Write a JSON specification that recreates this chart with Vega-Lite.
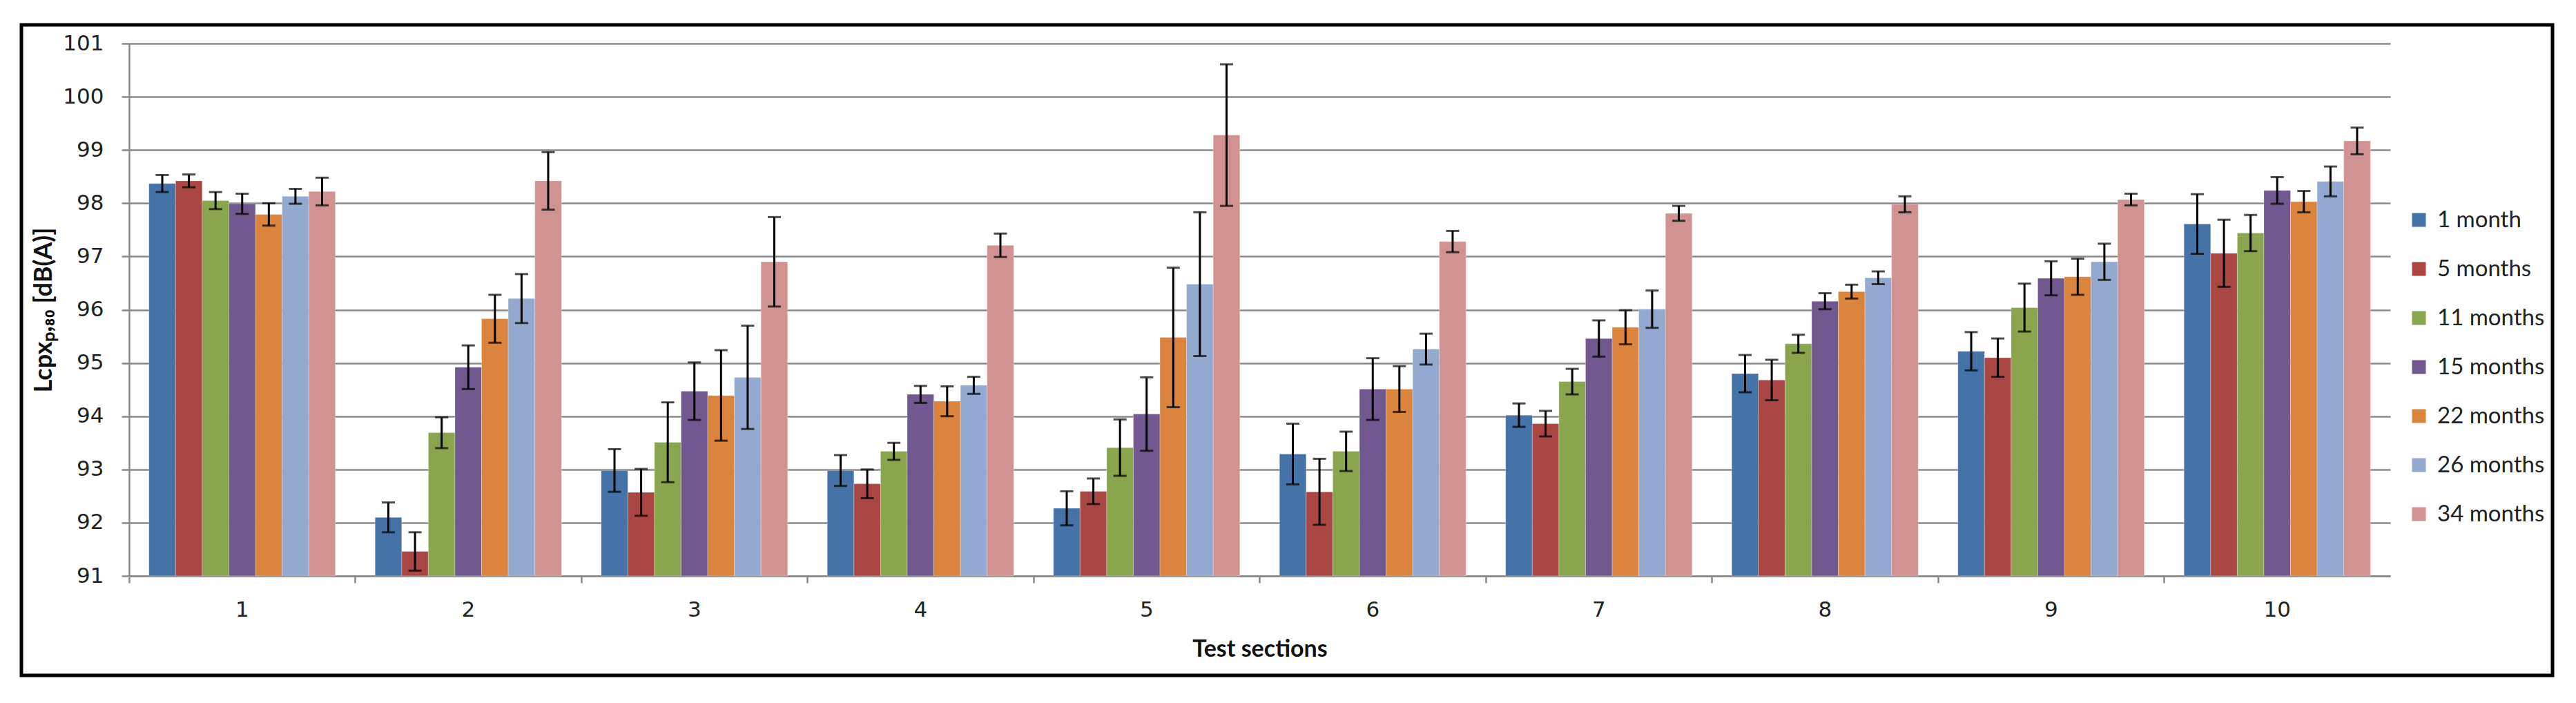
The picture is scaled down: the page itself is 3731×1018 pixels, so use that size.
{
  "$schema": "https://vega.github.io/schema/vega-lite/v6.json",
  "width": 3666,
  "height": 942,
  "autosize": {"type": "none"},
  "padding": {"left": 31, "top": 36, "right": 34, "bottom": 40},
  "background": "white",
  "config": {
    "view": {"stroke": "black", "strokeWidth": 5},
    "font": "Lato",
    "legend": {
      "orient": "none",
      "legendX": 3456,
      "legendY": 266,
      "title": null,
      "symbolType": "square",
      "symbolSize": 400,
      "symbolStrokeWidth": 0,
      "labelFont": "Lato",
      "labelFontSize": 33,
      "labelColor": "#222222",
      "labelOffset": 10,
      "rowPadding": 37,
      "padding": 0
    }
  },
  "data": {
    "values": [
      {"section": 1, "age": "1 month", "value": 98.37, "lo": 98.21, "hi": 98.53},
      {"section": 1, "age": "5 months", "value": 98.42, "lo": 98.30, "hi": 98.54},
      {"section": 1, "age": "11 months", "value": 98.05, "lo": 97.89, "hi": 98.21},
      {"section": 1, "age": "15 months", "value": 97.99, "lo": 97.80, "hi": 98.18},
      {"section": 1, "age": "22 months", "value": 97.79, "lo": 97.58, "hi": 98.00},
      {"section": 1, "age": "26 months", "value": 98.13, "lo": 97.99, "hi": 98.27},
      {"section": 1, "age": "34 months", "value": 98.22, "lo": 97.96, "hi": 98.48},
      {"section": 2, "age": "1 month", "value": 92.10, "lo": 91.82, "hi": 92.38},
      {"section": 2, "age": "5 months", "value": 91.46, "lo": 91.10, "hi": 91.82},
      {"section": 2, "age": "11 months", "value": 93.69, "lo": 93.40, "hi": 93.98},
      {"section": 2, "age": "15 months", "value": 94.92, "lo": 94.51, "hi": 95.33},
      {"section": 2, "age": "22 months", "value": 95.83, "lo": 95.38, "hi": 96.28},
      {"section": 2, "age": "26 months", "value": 96.21, "lo": 95.75, "hi": 96.67},
      {"section": 2, "age": "34 months", "value": 98.42, "lo": 97.88, "hi": 98.96},
      {"section": 3, "age": "1 month", "value": 92.98, "lo": 92.58, "hi": 93.38},
      {"section": 3, "age": "5 months", "value": 92.57, "lo": 92.13, "hi": 93.01},
      {"section": 3, "age": "11 months", "value": 93.51, "lo": 92.76, "hi": 94.26},
      {"section": 3, "age": "15 months", "value": 94.47, "lo": 93.93, "hi": 95.01},
      {"section": 3, "age": "22 months", "value": 94.39, "lo": 93.54, "hi": 95.24},
      {"section": 3, "age": "26 months", "value": 94.73, "lo": 93.76, "hi": 95.70},
      {"section": 3, "age": "34 months", "value": 96.90, "lo": 96.06, "hi": 97.74},
      {"section": 4, "age": "1 month", "value": 92.98, "lo": 92.69, "hi": 93.27},
      {"section": 4, "age": "5 months", "value": 92.73, "lo": 92.46, "hi": 93.00},
      {"section": 4, "age": "11 months", "value": 93.34, "lo": 93.18, "hi": 93.50},
      {"section": 4, "age": "15 months", "value": 94.41, "lo": 94.25, "hi": 94.57},
      {"section": 4, "age": "22 months", "value": 94.28, "lo": 94.00, "hi": 94.56},
      {"section": 4, "age": "26 months", "value": 94.58, "lo": 94.42, "hi": 94.74},
      {"section": 4, "age": "34 months", "value": 97.21, "lo": 96.99, "hi": 97.43},
      {"section": 5, "age": "1 month", "value": 92.27, "lo": 91.95, "hi": 92.59},
      {"section": 5, "age": "5 months", "value": 92.59, "lo": 92.35, "hi": 92.83},
      {"section": 5, "age": "11 months", "value": 93.41, "lo": 92.88, "hi": 93.94},
      {"section": 5, "age": "15 months", "value": 94.04, "lo": 93.35, "hi": 94.73},
      {"section": 5, "age": "22 months", "value": 95.48, "lo": 94.17, "hi": 96.79},
      {"section": 5, "age": "26 months", "value": 96.48, "lo": 95.13, "hi": 97.83},
      {"section": 5, "age": "34 months", "value": 99.28, "lo": 97.95, "hi": 100.61},
      {"section": 6, "age": "1 month", "value": 93.29, "lo": 92.72, "hi": 93.86},
      {"section": 6, "age": "5 months", "value": 92.58, "lo": 91.96, "hi": 93.20},
      {"section": 6, "age": "11 months", "value": 93.34, "lo": 92.97, "hi": 93.71},
      {"section": 6, "age": "15 months", "value": 94.51, "lo": 93.93, "hi": 95.09},
      {"section": 6, "age": "22 months", "value": 94.51, "lo": 94.08, "hi": 94.94},
      {"section": 6, "age": "26 months", "value": 95.26, "lo": 94.97, "hi": 95.55},
      {"section": 6, "age": "34 months", "value": 97.28, "lo": 97.08, "hi": 97.48},
      {"section": 7, "age": "1 month", "value": 94.02, "lo": 93.80, "hi": 94.24},
      {"section": 7, "age": "5 months", "value": 93.86, "lo": 93.62, "hi": 94.10},
      {"section": 7, "age": "11 months", "value": 94.65, "lo": 94.41, "hi": 94.89},
      {"section": 7, "age": "15 months", "value": 95.46, "lo": 95.12, "hi": 95.80},
      {"section": 7, "age": "22 months", "value": 95.67, "lo": 95.35, "hi": 95.99},
      {"section": 7, "age": "26 months", "value": 96.01, "lo": 95.66, "hi": 96.36},
      {"section": 7, "age": "34 months", "value": 97.81, "lo": 97.67, "hi": 97.95},
      {"section": 8, "age": "1 month", "value": 94.80, "lo": 94.45, "hi": 95.15},
      {"section": 8, "age": "5 months", "value": 94.68, "lo": 94.30, "hi": 95.06},
      {"section": 8, "age": "11 months", "value": 95.36, "lo": 95.19, "hi": 95.53},
      {"section": 8, "age": "15 months", "value": 96.16, "lo": 96.01, "hi": 96.31},
      {"section": 8, "age": "22 months", "value": 96.34, "lo": 96.21, "hi": 96.47},
      {"section": 8, "age": "26 months", "value": 96.60, "lo": 96.48, "hi": 96.72},
      {"section": 8, "age": "34 months", "value": 97.98, "lo": 97.83, "hi": 98.13},
      {"section": 9, "age": "1 month", "value": 95.22, "lo": 94.86, "hi": 95.58},
      {"section": 9, "age": "5 months", "value": 95.10, "lo": 94.74, "hi": 95.46},
      {"section": 9, "age": "11 months", "value": 96.04, "lo": 95.59, "hi": 96.49},
      {"section": 9, "age": "15 months", "value": 96.59, "lo": 96.27, "hi": 96.91},
      {"section": 9, "age": "22 months", "value": 96.62, "lo": 96.28, "hi": 96.96},
      {"section": 9, "age": "26 months", "value": 96.90, "lo": 96.56, "hi": 97.24},
      {"section": 9, "age": "34 months", "value": 98.07, "lo": 97.96, "hi": 98.18},
      {"section": 10, "age": "1 month", "value": 97.61, "lo": 97.05, "hi": 98.17},
      {"section": 10, "age": "5 months", "value": 97.06, "lo": 96.43, "hi": 97.69},
      {"section": 10, "age": "11 months", "value": 97.44, "lo": 97.10, "hi": 97.78},
      {"section": 10, "age": "15 months", "value": 98.24, "lo": 97.99, "hi": 98.49},
      {"section": 10, "age": "22 months", "value": 98.03, "lo": 97.83, "hi": 98.23},
      {"section": 10, "age": "26 months", "value": 98.41, "lo": 98.13, "hi": 98.69},
      {"section": 10, "age": "34 months", "value": 99.17, "lo": 98.92, "hi": 99.42}
    ]
  },
  "resolve": {"axis": {"x": "independent"}},
  "layer": [
    {
      "mark": {"type": "bar", "stroke": "white", "strokeWidth": 0.6, "strokeOpacity": 0.5},
      "encoding": {
        "x": {
          "field": "section", "type": "ordinal",
          "scale": {"range": [156, 3431], "paddingInner": 0, "paddingOuter": 0},
          "axis": {
            "orient": "bottom", "offset": -144, "title": "Test sections",
            "titleFont": "Lato", "titleFontSize": 34, "titleFontWeight": "bold", "titleColor": "#111111",
            "titlePadding": 25,
            "labelAngle": 0, "labelFont": "DejaVu Sans", "labelFontSize": 31, "labelColor": "#222222",
            "labelPadding": 34, "ticks": false, "tickSize": 0,
            "domainColor": "#8a8a8a", "domainWidth": 2.5, "grid": false
          }
        },
        "xOffset": {
          "field": "age", "type": "nominal",
          "sort": ["1 month", "5 months", "11 months", "15 months", "22 months", "26 months", "34 months"],
          "scale": {"paddingInner": 0, "paddingOuter": 0.745}
        },
        "y": {
          "field": "value", "type": "quantitative",
          "scale": {"domain": [91, 101], "range": [798, 27], "nice": false, "zero": false},
          "axis": {
            "offset": -156, "values": [91, 92, 93, 94, 95, 96, 97, 98, 99, 100, 101], "format": "d",
            "title": "Lcpxₚ,₈₀ [dB(A)]", "titleFont": "Lato", "titleFontSize": 36, "titleFontWeight": "bold",
            "titleColor": "#111111", "titlePadding": 8,
            "labelFont": "DejaVu Sans", "labelFontSize": 31, "labelColor": "#222222", "labelPadding": 26,
            "tickSize": 11, "tickColor": "#8a8a8a", "tickWidth": 2.5,
            "domainColor": "#8a8a8a", "domainWidth": 2.5,
            "grid": true, "gridColor": "#8a8a8a", "gridWidth": 2.5
          }
        },
        "y2": {"datum": 91},
        "color": {
          "field": "age", "type": "nominal",
          "scale": {
            "domain": ["1 month", "5 months", "11 months", "15 months", "22 months", "26 months", "34 months"],
            "range": ["#4572A7", "#AA4643", "#89A54E", "#71588F", "#DB843D", "#93A9CF", "#D19392"]
          },
          "legend": {}
        }
      }
    },
    {
      "mark": {"type": "rule", "color": "black", "strokeWidth": 3},
      "encoding": {
        "x": {
          "field": "section", "type": "ordinal",
          "axis": {
            "orient": "bottom", "offset": -144, "title": null, "labels": false, "domain": false,
            "ticks": true, "tickSize": 10, "tickColor": "#8a8a8a", "tickWidth": 2.5,
            "bandPosition": 0, "grid": false
          }
        },
        "xOffset": {
          "field": "age", "type": "nominal",
          "sort": ["1 month", "5 months", "11 months", "15 months", "22 months", "26 months", "34 months"]
        },
        "y": {"field": "lo", "type": "quantitative"},
        "y2": {"field": "hi"}
      }
    },
    {
      "mark": {"type": "tick", "color": "black", "thickness": 3, "size": 19},
      "encoding": {
        "x": {"field": "section", "type": "ordinal", "axis": null},
        "xOffset": {
          "field": "age", "type": "nominal",
          "sort": ["1 month", "5 months", "11 months", "15 months", "22 months", "26 months", "34 months"]
        },
        "y": {"field": "lo", "type": "quantitative"}
      }
    },
    {
      "mark": {"type": "tick", "color": "black", "thickness": 3, "size": 19},
      "encoding": {
        "x": {"field": "section", "type": "ordinal", "axis": null},
        "xOffset": {
          "field": "age", "type": "nominal",
          "sort": ["1 month", "5 months", "11 months", "15 months", "22 months", "26 months", "34 months"]
        },
        "y": {"field": "hi", "type": "quantitative"}
      }
    }
  ]
}
